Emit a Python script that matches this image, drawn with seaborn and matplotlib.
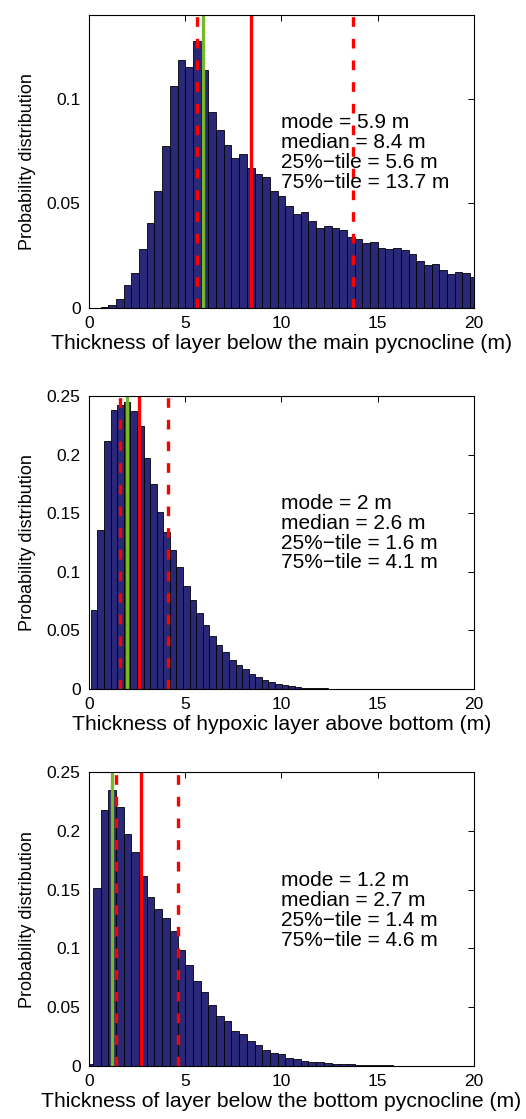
import numpy as np
import pandas as pd
import matplotlib
matplotlib.use("Agg")
import matplotlib.pyplot as plt
import seaborn as sns

# bar heights
# top panel: bins of 0.4 m centred on 0, 0.4, ..., 20
top_heights = [0.0, 0.0, 0.0004, 0.0013, 0.0043, 0.011, 0.0166, 0.0283, 0.0406, 0.0557,
               0.0775, 0.1063, 0.1184, 0.1151, 0.1278, 0.1135, 0.0938, 0.085, 0.0777, 0.0716,
               0.0737, 0.0669, 0.0638, 0.0627, 0.056, 0.0533, 0.0486, 0.045, 0.046, 0.0416,
               0.0384, 0.0392, 0.038, 0.0374, 0.0339, 0.033, 0.0309, 0.0314, 0.0288, 0.0282,
               0.0288, 0.0279, 0.0256, 0.0223, 0.0207, 0.021, 0.0183, 0.0164, 0.017, 0.0166,
               0.0148]

# middle panel: bins of ~0.34 m starting at 0.1
mid_heights = [0.067, 0.136, 0.212, 0.238, 0.242, 0.245, 0.237, 0.224, 0.197, 0.175,
               0.151, 0.134, 0.119, 0.104, 0.088, 0.076, 0.065, 0.0545, 0.0449, 0.0375,
               0.0315, 0.0249, 0.0205, 0.0168, 0.0128, 0.0100, 0.0078, 0.006, 0.0045, 0.0033,
               0.0023, 0.0017, 0.0012, 0.0008, 0.0005, 0.0004, 0.0003, 0.0002, 0.0002, 0.0001,
               0.0001, 0.0001, 0.0, 0.0, 0.0, 0.0, 0.0, 0.0, 0.0, 0.0,
               0.0, 0.0, 0.0, 0.0, 0.0, 0.0, 0.0, 0.0]

# bottom panel: bins of 0.4 m centred on 0, 0.4, ..., 20
bot_heights = [0.002, 0.1517, 0.2175, 0.235, 0.2204, 0.197, 0.182, 0.162, 0.144, 0.134,
               0.126, 0.1147, 0.0985, 0.0858, 0.0721, 0.0628, 0.052, 0.0426, 0.038, 0.030,
               0.027, 0.021, 0.018, 0.0133, 0.0112, 0.0099, 0.0071, 0.0057, 0.0045, 0.0036,
               0.003, 0.0024, 0.002, 0.0016, 0.0013, 0.001, 0.0008, 0.0006, 0.0005, 0.0004,
               0.0003, 0.0002, 0.0002, 0.0001, 0.0001, 0.0001, 0.0, 0.0, 0.0, 0.0,
               0.0]

# mode, median, 25%-tile, 75%-tile
top_stats = [5.9, 8.4, 5.6, 13.7]
mid_stats = [2, 2.6, 1.6, 4.1]
bot_stats = [1.2, 2.7, 1.4, 4.6]

xlabels = ["Thickness of layer below the main pycnocline (m)",
           "Thickness of hypoxic layer above bottom (m)",
           "Thickness of layer below the bottom pycnocline (m)"]

sns.set_style("white")
plt.rcParams["font.family"] = ["Liberation Sans", "DejaVu Sans"]
plt.rcParams["text.color"] = "black"
plt.rcParams["axes.labelcolor"] = "black"

navy = "#2a2878"
green = "#77b82e"

fig = plt.figure(figsize=(5.26, 11.19), dpi=100)
axes = [fig.add_axes([0.1692, 0.7248, 0.7319, 0.2618]),
        fig.add_axes([0.1692, 0.3843, 0.7319, 0.2618]),
        fig.add_axes([0.1692, 0.0474, 0.7319, 0.2625])]

w04 = 0.4
edges04 = np.arange(len(top_heights) + 1) * w04 - w04 / 2
w_mid = 0.3415
edges_mid = 0.1 + np.arange(len(mid_heights) + 1) * w_mid

panels = [
    (top_heights, edges04, top_stats, 0.14, [0, 0.05, 0.1], ["0", "0.05", "0.1"], 0.0743),
    (mid_heights, edges_mid, mid_stats, 0.25, [0, 0.05, 0.1, 0.15, 0.2, 0.25],
     ["0", "0.05", "0.1", "0.15", "0.2", "0.25"], 0.1328),
    (bot_heights, edges04, bot_stats, 0.25, [0, 0.05, 0.1, 0.15, 0.2, 0.25],
     ["0", "0.05", "0.1", "0.15", "0.2", "0.25"], 0.1324),
]

for ax, (h, edges, st, ytop, yt, ytl, ytext), xl in zip(axes, panels, xlabels):
    centers = (edges[:-1] + edges[1:]) / 2
    df = pd.DataFrame({"thick": centers, "prob": h})
    sns.histplot(data=df, x="thick", weights="prob", bins=list(edges), ax=ax,
                 color=navy, edgecolor="black", linewidth=0.6, alpha=1)
    mode, med, q25, q75 = st
    lw = 2.4
    ax.axvline(q25, color="red", lw=lw, ls=(0, (2.9, 3.6)))
    ax.axvline(q75, color="red", lw=lw, ls=(0, (2.9, 3.6)))
    ax.axvline(med, color="red", lw=lw)
    ax.axvline(mode, color=green, lw=lw)
    ax.set_xlim(0, 20)
    ax.set_ylim(0, ytop)
    ax.set_xticks([0, 5, 10, 15, 20])
    ax.set_xticklabels(["0", "5", "10", "15", "20"])
    ax.set_yticks(yt)
    ax.set_yticklabels(ytl)
    ax.tick_params(direction="in", top=True, right=True, length=4, width=0.7,
                   labelsize=12.5, colors="black", pad=6)
    for s in ax.spines.values():
        s.set_visible(True)
        s.set_color("black")
        s.set_linewidth(0.8)
    ax.set_xlabel(xl, fontsize=15.2, labelpad=2)
    ax.set_ylabel("Probability distribution", fontsize=13, labelpad=8)
    txt = (f"mode = {mode:g} m\nmedian = {med:g} m\n"
           f"25%\u2212tile = {q25:g} m\n75%\u2212tile = {q75:g} m")
    ax.text(10, ytext, txt, ha="left", va="center", fontsize=15, linespacing=1.05,
            color="black")

fig.savefig("out.png", dpi=100)
